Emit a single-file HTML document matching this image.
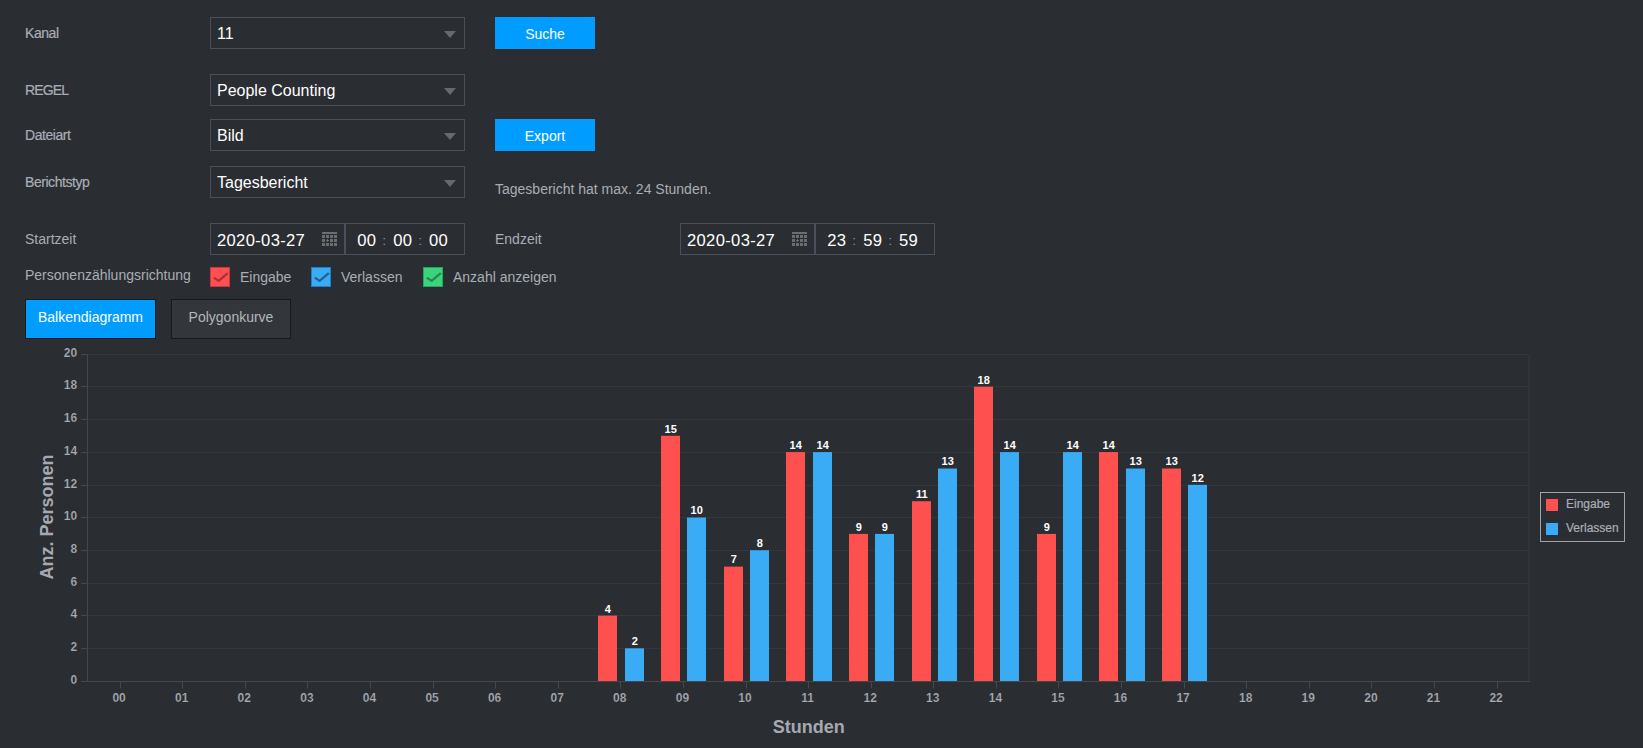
<!DOCTYPE html>
<html lang="de"><head><meta charset="utf-8"><title>Personenzählung</title>
<style>
html,body{margin:0;padding:0;background:#2a2d32;}
body{width:1643px;height:748px;position:relative;overflow:hidden;font-family:"Liberation Sans",Arial,sans-serif;color:#a9adb5;font-size:14px;}
.lb{position:absolute;left:25px;height:20px;line-height:20px;white-space:nowrap;}
.lb.s{font-size:14px;letter-spacing:-0.45px;-webkit-text-stroke:0.2px #a9adb5;}
.sel{position:absolute;left:210px;width:253px;height:30px;border:1px solid #4a4f5b;background:#2a2d32;color:#fff;font-size:16px;line-height:30px;}
.sel span{position:absolute;left:6px;top:1px;white-space:nowrap;}
.sel i{position:absolute;right:8px;top:13px;width:0;height:0;border-left:6px solid transparent;border-right:6px solid transparent;border-top:7px solid #66696e;}
.btn{position:absolute;left:495px;width:100px;height:32px;background:#009cff;color:#fff;text-align:center;line-height:34px;font-size:14px;}
.dt{position:absolute;height:30px;border:1px solid #4a4f5b;color:#fff;font-size:16.6px;line-height:33px;box-sizing:content-box;overflow:hidden;}
.dt span{position:absolute;top:0;white-space:nowrap;letter-spacing:0.33px;}
.dt .c{color:#9a9da3;font-size:12px;line-height:35px;}
.cb{position:absolute;top:267px;width:18px;height:18px;border:1px solid;}
.cb svg{position:absolute;left:0;top:0;}
.tx{position:absolute;white-space:nowrap;height:20px;line-height:20px;}
.tab{position:absolute;top:299px;height:38px;border:1px solid #17191c;text-align:center;line-height:35px;font-size:14px;}
.chart{position:absolute;left:0;top:338px;}
.chart text{font-family:"Liberation Sans",Arial,sans-serif;}
.yt,.xt{font-size:12px;font-weight:bold;fill:#a9acb4;stroke:#2a2d32;stroke-width:0.2px;}
.bl{font-size:11px;font-weight:bold;fill:#fff;}
.at{font-size:18px;font-weight:bold;fill:#a6a9b1;}
.lg{font-size:12px;fill:#abaeb6;stroke:#abaeb6;stroke-width:0.2px;}
</style></head><body>
<div class="lb s" style="top:23px">Kanal</div>
<div class="lb s" style="top:80px;letter-spacing:-0.85px">REGEL</div>
<div class="lb s" style="top:125px">Dateiart</div>
<div class="lb s" style="top:172px">Berichtstyp</div>
<div class="lb" style="top:229px">Startzeit</div>
<div class="lb" style="top:265px">Personenzählungsrichtung</div>

<div class="sel" style="top:17px"><span>11</span><i></i></div>
<div class="sel" style="top:74px"><span>People Counting</span><i></i></div>
<div class="sel" style="top:119px"><span>Bild</span><i></i></div>
<div class="sel" style="top:166px"><span>Tagesbericht</span><i></i></div>

<div class="btn" style="top:17px">Suche</div>
<div class="btn" style="top:119px">Export</div>
<div class="tx" style="left:495px;top:179px">Tagesbericht hat max. 24 Stunden.</div>

<div class="dt" style="left:210px;top:223px;width:133px"><span style="left:6px">2020-03-27</span><svg style="position:absolute;left:111px;top:8px" width="15" height="14" viewBox="0 0 15 14"><g fill="#6b6d70"><rect x="0" y="0" width="15" height="2"/><rect x="0" y="3" width="3" height="3"/><rect x="4" y="3" width="3" height="3"/><rect x="8" y="3" width="3" height="3"/><rect x="12" y="3" width="3" height="3"/><rect x="0" y="7" width="3" height="3"/><path d="M5 7h1v1h1v1h-1v1h-1v-1h-1v-1h1z"/><rect x="8" y="7" width="3" height="3"/><rect x="12" y="7" width="3" height="3"/><rect x="0" y="11" width="3" height="3"/><rect x="4" y="11" width="3" height="3"/><rect x="8" y="11" width="3" height="3"/><rect x="12" y="11" width="3" height="3"/></g></svg></div>
<div class="dt" style="left:345px;top:223px;width:118px"><span style="left:11.2px">00</span><span class="c" style="left:36.4px">:</span><span style="left:47.2px">00</span><span class="c" style="left:72.4px">:</span><span style="left:83px">00</span></div>
<div class="tx" style="left:495px;top:229px">Endzeit</div>
<div class="dt" style="left:680px;top:223px;width:133px"><span style="left:6px">2020-03-27</span><svg style="position:absolute;left:111px;top:8px" width="15" height="14" viewBox="0 0 15 14"><g fill="#6b6d70"><rect x="0" y="0" width="15" height="2"/><rect x="0" y="3" width="3" height="3"/><rect x="4" y="3" width="3" height="3"/><rect x="8" y="3" width="3" height="3"/><rect x="12" y="3" width="3" height="3"/><rect x="0" y="7" width="3" height="3"/><path d="M5 7h1v1h1v1h-1v1h-1v-1h-1v-1h1z"/><rect x="8" y="7" width="3" height="3"/><rect x="12" y="7" width="3" height="3"/><rect x="0" y="11" width="3" height="3"/><rect x="4" y="11" width="3" height="3"/><rect x="8" y="11" width="3" height="3"/><rect x="12" y="11" width="3" height="3"/></g></svg></div>
<div class="dt" style="left:815px;top:223px;width:118px"><span style="left:11.2px">23</span><span class="c" style="left:36.4px">:</span><span style="left:47.2px">59</span><span class="c" style="left:72.4px">:</span><span style="left:83px">59</span></div>

<div class="cb" style="left:210px;background:#ff4f51;border-color:#c73a3e;color:#a63237"><svg width="18" height="18" viewBox="0 0 18 18"><path d="M2.8 9.6 L7.6 12.8 L16.8 5.1" fill="none" stroke="currentColor" stroke-width="2.2"/></svg></div>
<div class="tx" style="left:240px;top:267px">Eingabe</div>
<div class="cb" style="left:311px;background:#3aabf5;border-color:#1b7fd0;color:#245f8e"><svg width="18" height="18" viewBox="0 0 18 18"><path d="M2.8 9.6 L7.6 12.8 L16.8 5.1" fill="none" stroke="currentColor" stroke-width="2.2"/></svg></div>
<div class="tx" style="left:341px;top:267px">Verlassen</div>
<div class="cb" style="left:423px;background:#3bd47d;border-color:#24a85a;color:#25864f"><svg width="18" height="18" viewBox="0 0 18 18"><path d="M2.8 9.6 L7.6 12.8 L16.8 5.1" fill="none" stroke="currentColor" stroke-width="2.2"/></svg></div>
<div class="tx" style="left:453px;top:267px">Anzahl anzeigen</div>

<div class="tab" style="left:25px;width:129px;background:#009cff;color:#fff">Balkendiagramm</div>
<div class="tab" style="left:171px;width:118px;background:#33363b;color:#b3b7be">Polygonkurve</div>
<svg class="chart" width="1643" height="410" viewBox="0 338 1643 410">
<line x1="81" x2="87.5" y1="681.5" y2="681.5" stroke="#484745" stroke-width="1"/>
<text class="yt" x="77.2" y="684.2" text-anchor="end">0</text>
<line x1="88.0" x2="1529.5" y1="648.5" y2="648.5" stroke="#33363b" stroke-width="1"/>
<line x1="81" x2="87.5" y1="648.5" y2="648.5" stroke="#484745" stroke-width="1"/>
<text class="yt" x="77.2" y="651.2" text-anchor="end">2</text>
<line x1="88.0" x2="1529.5" y1="615.5" y2="615.5" stroke="#33363b" stroke-width="1"/>
<line x1="81" x2="87.5" y1="615.5" y2="615.5" stroke="#484745" stroke-width="1"/>
<text class="yt" x="77.2" y="618.2" text-anchor="end">4</text>
<line x1="88.0" x2="1529.5" y1="583.5" y2="583.5" stroke="#33363b" stroke-width="1"/>
<line x1="81" x2="87.5" y1="583.5" y2="583.5" stroke="#484745" stroke-width="1"/>
<text class="yt" x="77.2" y="586.2" text-anchor="end">6</text>
<line x1="88.0" x2="1529.5" y1="550.5" y2="550.5" stroke="#33363b" stroke-width="1"/>
<line x1="81" x2="87.5" y1="550.5" y2="550.5" stroke="#484745" stroke-width="1"/>
<text class="yt" x="77.2" y="553.2" text-anchor="end">8</text>
<line x1="88.0" x2="1529.5" y1="517.5" y2="517.5" stroke="#33363b" stroke-width="1"/>
<line x1="81" x2="87.5" y1="517.5" y2="517.5" stroke="#484745" stroke-width="1"/>
<text class="yt" x="77.2" y="520.2" text-anchor="end">10</text>
<line x1="88.0" x2="1529.5" y1="485.5" y2="485.5" stroke="#33363b" stroke-width="1"/>
<line x1="81" x2="87.5" y1="485.5" y2="485.5" stroke="#484745" stroke-width="1"/>
<text class="yt" x="77.2" y="488.2" text-anchor="end">12</text>
<line x1="88.0" x2="1529.5" y1="452.5" y2="452.5" stroke="#33363b" stroke-width="1"/>
<line x1="81" x2="87.5" y1="452.5" y2="452.5" stroke="#484745" stroke-width="1"/>
<text class="yt" x="77.2" y="455.2" text-anchor="end">14</text>
<line x1="88.0" x2="1529.5" y1="419.5" y2="419.5" stroke="#33363b" stroke-width="1"/>
<line x1="81" x2="87.5" y1="419.5" y2="419.5" stroke="#484745" stroke-width="1"/>
<text class="yt" x="77.2" y="422.2" text-anchor="end">16</text>
<line x1="88.0" x2="1529.5" y1="386.5" y2="386.5" stroke="#33363b" stroke-width="1"/>
<line x1="81" x2="87.5" y1="386.5" y2="386.5" stroke="#484745" stroke-width="1"/>
<text class="yt" x="77.2" y="389.2" text-anchor="end">18</text>
<line x1="88.0" x2="1529.5" y1="354.5" y2="354.5" stroke="#33363b" stroke-width="1"/>
<line x1="81" x2="87.5" y1="354.5" y2="354.5" stroke="#484745" stroke-width="1"/>
<text class="yt" x="77.2" y="357.2" text-anchor="end">20</text>
<rect x="1528" y="354.0" width="2" height="327.0" fill="#2f3237"/>
<line x1="87.5" x2="87.5" y1="354.0" y2="682.0" stroke="#484745" stroke-width="1"/>
<line x1="81" x2="1530" y1="681.5" y2="681.5" stroke="#484745" stroke-width="1"/>
<line x1="120.5" x2="120.5" y1="682.0" y2="688.5" stroke="#484745" stroke-width="1"/>
<text class="xt" x="119.1" y="702.3" text-anchor="middle">00</text>
<line x1="182.5" x2="182.5" y1="682.0" y2="688.5" stroke="#484745" stroke-width="1"/>
<text class="xt" x="181.7" y="702.3" text-anchor="middle">01</text>
<line x1="245.5" x2="245.5" y1="682.0" y2="688.5" stroke="#484745" stroke-width="1"/>
<text class="xt" x="244.3" y="702.3" text-anchor="middle">02</text>
<line x1="307.5" x2="307.5" y1="682.0" y2="688.5" stroke="#484745" stroke-width="1"/>
<text class="xt" x="306.9" y="702.3" text-anchor="middle">03</text>
<line x1="370.5" x2="370.5" y1="682.0" y2="688.5" stroke="#484745" stroke-width="1"/>
<text class="xt" x="369.5" y="702.3" text-anchor="middle">04</text>
<line x1="433.5" x2="433.5" y1="682.0" y2="688.5" stroke="#484745" stroke-width="1"/>
<text class="xt" x="432.1" y="702.3" text-anchor="middle">05</text>
<line x1="495.5" x2="495.5" y1="682.0" y2="688.5" stroke="#484745" stroke-width="1"/>
<text class="xt" x="494.6" y="702.3" text-anchor="middle">06</text>
<line x1="558.5" x2="558.5" y1="682.0" y2="688.5" stroke="#484745" stroke-width="1"/>
<text class="xt" x="557.2" y="702.3" text-anchor="middle">07</text>
<line x1="620.5" x2="620.5" y1="682.0" y2="688.5" stroke="#484745" stroke-width="1"/>
<text class="xt" x="619.8" y="702.3" text-anchor="middle">08</text>
<rect x="598" y="615.6" width="19" height="65.4" fill="#ff5050"/>
<text class="bl" x="607.7" y="613" text-anchor="middle">4</text>
<rect x="625" y="648.3" width="19" height="32.7" fill="#3aabf5"/>
<text class="bl" x="634.7" y="645" text-anchor="middle">2</text>
<line x1="683.5" x2="683.5" y1="682.0" y2="688.5" stroke="#484745" stroke-width="1"/>
<text class="xt" x="682.4" y="702.3" text-anchor="middle">09</text>
<rect x="661" y="435.8" width="19" height="245.2" fill="#ff5050"/>
<text class="bl" x="670.7" y="433" text-anchor="middle">15</text>
<rect x="687" y="517.5" width="19" height="163.5" fill="#3aabf5"/>
<text class="bl" x="696.7" y="514" text-anchor="middle">10</text>
<line x1="746.5" x2="746.5" y1="682.0" y2="688.5" stroke="#484745" stroke-width="1"/>
<text class="xt" x="745.0" y="702.3" text-anchor="middle">10</text>
<rect x="724" y="566.6" width="19" height="114.4" fill="#ff5050"/>
<text class="bl" x="733.7" y="563" text-anchor="middle">7</text>
<rect x="750" y="550.2" width="19" height="130.8" fill="#3aabf5"/>
<text class="bl" x="759.7" y="547" text-anchor="middle">8</text>
<line x1="808.5" x2="808.5" y1="682.0" y2="688.5" stroke="#484745" stroke-width="1"/>
<text class="xt" x="807.6" y="702.3" text-anchor="middle">11</text>
<rect x="786" y="452.1" width="19" height="228.9" fill="#ff5050"/>
<text class="bl" x="795.7" y="449" text-anchor="middle">14</text>
<rect x="813" y="452.1" width="19" height="228.9" fill="#3aabf5"/>
<text class="bl" x="822.7" y="449" text-anchor="middle">14</text>
<line x1="871.5" x2="871.5" y1="682.0" y2="688.5" stroke="#484745" stroke-width="1"/>
<text class="xt" x="870.2" y="702.3" text-anchor="middle">12</text>
<rect x="849" y="533.9" width="19" height="147.1" fill="#ff5050"/>
<text class="bl" x="858.7" y="531" text-anchor="middle">9</text>
<rect x="875" y="533.9" width="19" height="147.1" fill="#3aabf5"/>
<text class="bl" x="884.7" y="531" text-anchor="middle">9</text>
<line x1="933.5" x2="933.5" y1="682.0" y2="688.5" stroke="#484745" stroke-width="1"/>
<text class="xt" x="932.8" y="702.3" text-anchor="middle">13</text>
<rect x="912" y="501.2" width="19" height="179.8" fill="#ff5050"/>
<text class="bl" x="921.7" y="498" text-anchor="middle">11</text>
<rect x="938" y="468.5" width="19" height="212.5" fill="#3aabf5"/>
<text class="bl" x="947.7" y="465" text-anchor="middle">13</text>
<line x1="996.5" x2="996.5" y1="682.0" y2="688.5" stroke="#484745" stroke-width="1"/>
<text class="xt" x="995.4" y="702.3" text-anchor="middle">14</text>
<rect x="974" y="386.7" width="19" height="294.3" fill="#ff5050"/>
<text class="bl" x="983.7" y="384" text-anchor="middle">18</text>
<rect x="1000" y="452.1" width="19" height="228.9" fill="#3aabf5"/>
<text class="bl" x="1009.7" y="449" text-anchor="middle">14</text>
<line x1="1058.5" x2="1058.5" y1="682.0" y2="688.5" stroke="#484745" stroke-width="1"/>
<text class="xt" x="1058.0" y="702.3" text-anchor="middle">15</text>
<rect x="1037" y="533.9" width="19" height="147.1" fill="#ff5050"/>
<text class="bl" x="1046.7" y="531" text-anchor="middle">9</text>
<rect x="1063" y="452.1" width="19" height="228.9" fill="#3aabf5"/>
<text class="bl" x="1072.7" y="449" text-anchor="middle">14</text>
<line x1="1121.5" x2="1121.5" y1="682.0" y2="688.5" stroke="#484745" stroke-width="1"/>
<text class="xt" x="1120.5" y="702.3" text-anchor="middle">16</text>
<rect x="1099" y="452.1" width="19" height="228.9" fill="#ff5050"/>
<text class="bl" x="1108.7" y="449" text-anchor="middle">14</text>
<rect x="1126" y="468.5" width="19" height="212.5" fill="#3aabf5"/>
<text class="bl" x="1135.7" y="465" text-anchor="middle">13</text>
<line x1="1184.5" x2="1184.5" y1="682.0" y2="688.5" stroke="#484745" stroke-width="1"/>
<text class="xt" x="1183.1" y="702.3" text-anchor="middle">17</text>
<rect x="1162" y="468.5" width="19" height="212.5" fill="#ff5050"/>
<text class="bl" x="1171.7" y="465" text-anchor="middle">13</text>
<rect x="1188" y="484.8" width="19" height="196.2" fill="#3aabf5"/>
<text class="bl" x="1197.7" y="482" text-anchor="middle">12</text>
<line x1="1246.5" x2="1246.5" y1="682.0" y2="688.5" stroke="#484745" stroke-width="1"/>
<text class="xt" x="1245.7" y="702.3" text-anchor="middle">18</text>
<line x1="1309.5" x2="1309.5" y1="682.0" y2="688.5" stroke="#484745" stroke-width="1"/>
<text class="xt" x="1308.3" y="702.3" text-anchor="middle">19</text>
<line x1="1371.5" x2="1371.5" y1="682.0" y2="688.5" stroke="#484745" stroke-width="1"/>
<text class="xt" x="1370.9" y="702.3" text-anchor="middle">20</text>
<line x1="1434.5" x2="1434.5" y1="682.0" y2="688.5" stroke="#484745" stroke-width="1"/>
<text class="xt" x="1433.5" y="702.3" text-anchor="middle">21</text>
<line x1="1497.5" x2="1497.5" y1="682.0" y2="688.5" stroke="#484745" stroke-width="1"/>
<text class="xt" x="1496.1" y="702.3" text-anchor="middle">22</text>
<text class="at" x="808.8" y="733" text-anchor="middle">Stunden</text>
<text class="at" transform="translate(53,517) rotate(-90)" text-anchor="middle">Anz. Personen</text>
<rect x="1540.5" y="492.5" width="84" height="49" fill="none" stroke="#a0a3ab" stroke-width="1"/>
<rect x="1546" y="499" width="12" height="12" fill="#ff5050"/>
<rect x="1546" y="523" width="12" height="12" fill="#3aabf5"/>
<text class="lg" x="1566" y="508">Eingabe</text>
<text class="lg" x="1566" y="532">Verlassen</text>
</svg>
</body></html>
